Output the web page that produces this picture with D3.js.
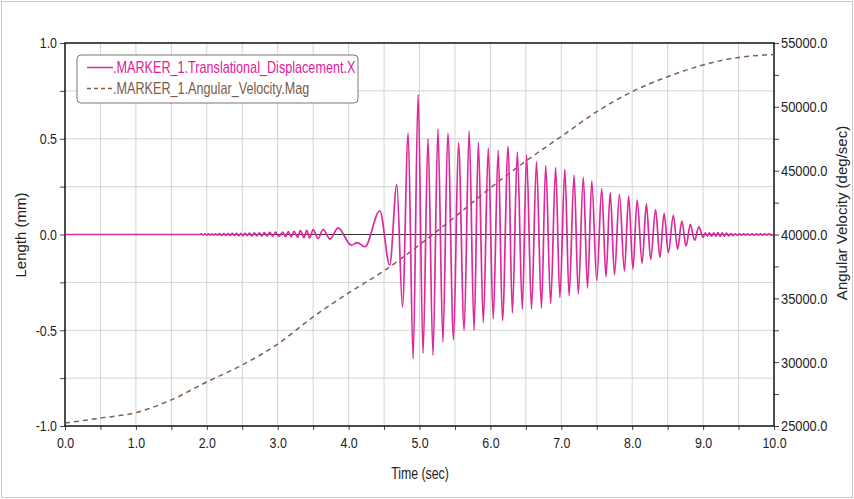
<!DOCTYPE html>
<html>
<head>
<meta charset="utf-8">
<script src="https://cdn.jsdelivr.net/npm/d3@7"></script>
<style>
  body { margin: 0; background: #fff; }
  text { font-family: "Liberation Sans", Arial, sans-serif; }
</style>
</head>
<body>
<div id="chart"></div>
<script>
// time axis
var timeTicks = [0, 1, 2, 3, 4, 5, 6, 7, 8, 9, 10];
var lenTicks = [-1.0, -0.5, 0.0, 0.5, 1.0];
var angTicks = [25000, 30000, 35000, 40000, 45000, 50000, 55000];

// .MARKER_1.Angular_Velocity.Mag (deg/sec)
var angTime = [0, 0.5, 1, 1.5, 2, 2.5, 3, 3.5, 4, 4.5, 5, 5.5, 6, 6.5, 7, 7.5, 8, 8.5, 9, 9.5, 10];
var angValue = [25230, 25620, 26050, 27050, 28450, 29780, 31420, 33550, 35420, 37150, 39200, 41380,
    43650, 45750, 47680, 49620, 51190, 52360, 53280, 53870, 54100];

// .MARKER_1.Translational_Displacement.X (mm), peaks and troughs
var dispTime = [0, 0.5, 1.0, 1.5, 1.9,
    1.925, 1.95, 1.975, 2.0, 2.025, 2.05, 2.075, 2.1, 2.125, 2.15, 2.18, 2.21, 2.24, 2.27, 2.30, 2.33,
    2.36, 2.39, 2.42, 2.45, 2.48, 2.51, 2.54, 2.57, 2.60, 2.635, 2.67, 2.705, 2.74, 2.775, 2.81, 2.85,
    2.89, 2.93, 2.97, 3.02, 3.07, 3.11, 3.15, 3.19, 3.23, 3.28, 3.32, 3.37, 3.41, 3.45, 3.50, 3.57,
    3.64, 3.74, 3.85, 4.04, 4.12, 4.23, 4.44, 4.58,
    4.68, 4.76, 4.84, 4.91, 4.98, 5.05, 5.12, 5.19, 5.26, 5.33, 5.40, 5.48, 5.55, 5.63, 5.70, 5.77,
    5.83, 5.90, 5.97, 6.04, 6.11, 6.17, 6.25, 6.31, 6.38, 6.45, 6.51, 6.58, 6.65, 6.72, 6.78, 6.85,
    6.92, 6.98, 7.05, 7.11, 7.18, 7.24, 7.31, 7.37, 7.43, 7.50, 7.57, 7.63, 7.69, 7.75, 7.82, 7.89,
    7.95, 8.01, 8.07, 8.14, 8.20, 8.26, 8.33, 8.39, 8.45, 8.51, 8.58, 8.64, 8.70, 8.76, 8.82, 8.88,
    8.94, 9.00,
    9.03, 9.06, 9.09, 9.12, 9.15, 9.18, 9.21, 9.24, 9.27, 9.30, 9.33, 9.36, 9.39, 9.42, 9.45, 9.48,
    9.51, 9.54, 9.57, 9.60, 9.63, 9.66, 9.69, 9.72, 9.75, 9.78, 9.81, 9.84, 9.87, 9.90, 9.93, 9.96, 10.0];
var dispValue = [0, 0, 0, 0, 0,
    0.003, -0.003, 0.003, -0.003, 0.004, -0.004, 0.004, -0.004, 0.004, -0.004, 0.005, -0.005, 0.005, -0.005, 0.005, -0.005,
    0.006, -0.005, 0.006, -0.006, 0.006, -0.006, 0.007, -0.006, 0.007, -0.007, 0.008, -0.007, 0.009, -0.008, 0.010, -0.008,
    0.011, -0.009, 0.012, -0.010, 0.013, -0.011, 0.015, -0.012, 0.017, -0.014, 0.020, -0.016, 0.022, -0.018, 0.025, -0.021,
    0.026, -0.024, 0.035, -0.056, -0.042, -0.064, 0.124, -0.16,
    0.26, -0.38, 0.53, -0.65, 0.73, -0.62, 0.50, -0.63, 0.55, -0.56, 0.53, -0.55, 0.48, -0.50, 0.54, -0.50,
    0.48, -0.46, 0.45, -0.44, 0.44, -0.45, 0.46, -0.41, 0.43, -0.39, 0.415, -0.39, 0.38, -0.385, 0.36, -0.36,
    0.35, -0.33, 0.34, -0.32, 0.31, -0.31, 0.30, -0.28, 0.28, -0.24, 0.24, -0.22, 0.22, -0.21, 0.21, -0.19,
    0.20, -0.18, 0.18, -0.15, 0.16, -0.13, 0.13, -0.12, 0.11, -0.095, 0.10, -0.077, 0.07, -0.06, 0.053, -0.03,
    0.04, -0.015,
    0.008, -0.008, 0.008, -0.009, 0.009, -0.009, 0.010, -0.010, 0.009, -0.009, 0.007, -0.007, 0.005, -0.005, 0.004, -0.004,
    0.003, -0.003, 0.003, -0.003, 0.003, -0.003, 0.003, -0.003, 0.003, -0.003, 0.003, -0.003, 0.003, -0.003, 0.003, -0.003, 0];

var svgWidth = 854;
var svgHeight = 499;
var margin = { top: 43, right: 80, bottom: 73, left: 65 };
var chartWidth = svgWidth - margin.left - margin.right;
var chartHeight = svgHeight - margin.top - margin.bottom;

var pink = "#dc2a9b";
var brown = "#80604b";

// the picture is squeezed sideways, so flat text is narrower than usual
function squeeze(sel, k) {
    sel.each(function () {
        var t = d3.select(this);
        var x = +t.attr("x") || 0;
        t.attr("x", x / k).attr("transform", `scale(${k},1)`);
    });
}

var svg = d3.select("#chart")
    .append("svg")
    .attr("width", svgWidth)
    .attr("height", svgHeight);

// light frame round the whole picture
svg.append("rect")
    .attr("x", 1.5).attr("y", 1.5)
    .attr("width", svgWidth - 3).attr("height", svgHeight - 3)
    .attr("fill", "none")
    .attr("stroke", "#c8c8c8");

var chartGroup = svg.append("g")
    .attr("transform", `translate(${margin.left}, ${margin.top})`);

var xScale = d3.scaleLinear().domain([0, 10]).range([0, chartWidth]);
var yScale = d3.scaleLinear().domain([-1, 1]).range([chartHeight, 0]);
var yRight = d3.scaleLinear().domain([25000, 55000]).range([chartHeight, 0]);

// grid
chartGroup.append("g")
    .selectAll("line")
    .data(d3.range(0.5, 10, 0.5))
    .enter()
    .append("line")
    .attr("x1", d => xScale(d)).attr("x2", d => xScale(d))
    .attr("y1", 0).attr("y2", chartHeight)
    .attr("stroke", "#d4d4d4");

chartGroup.append("g")
    .selectAll("line")
    .data(d3.range(-0.75, 1, 0.25))
    .enter()
    .append("line")
    .attr("x1", 0).attr("x2", chartWidth)
    .attr("y1", d => yScale(d)).attr("y2", d => yScale(d))
    .attr("stroke", "#d4d4d4");

// zero line
chartGroup.append("line")
    .attr("x1", 0).attr("x2", chartWidth)
    .attr("y1", yScale(0)).attr("y2", yScale(0))
    .attr("stroke", "#333")
    .attr("stroke-width", 1.2);

// axes
var bottomAxis = d3.axisBottom(xScale)
    .tickValues(d3.range(0, 10.01, 0.5))
    .tickSize(4)
    .tickFormat(d => (timeTicks.indexOf(d) >= 0 ? d.toFixed(1) : ""));
var leftAxis = d3.axisLeft(yScale)
    .tickValues(d3.range(-1, 1.01, 0.25))
    .tickSize(5)
    .tickFormat(d => (lenTicks.some(v => Math.abs(v - d) < 1e-6) ? d.toFixed(1) : ""));
var rightAxis = d3.axisRight(yRight)
    .tickValues(d3.range(25000, 55001, 2500))
    .tickSize(5)
    .tickFormat(d => (angTicks.indexOf(d) >= 0 ? d.toFixed(1) : ""));

var xAxis = chartGroup.append("g")
    .attr("transform", `translate(0, ${chartHeight})`)
    .call(bottomAxis);
var yAxis = chartGroup.append("g")
    .call(leftAxis);
var yAxisR = chartGroup.append("g")
    .attr("transform", `translate(${chartWidth}, 0)`)
    .call(rightAxis);

[xAxis, yAxis, yAxisR].forEach(function (ax) {
    ax.attr("font-size", 15.5).attr("font-family", null);
    ax.selectAll("text").attr("fill", "#222");
    ax.selectAll(".tick line").attr("stroke", "#444");
    ax.select(".domain").remove();
});
xAxis.selectAll("text").attr("dy", "1.0em");
yAxis.selectAll("text").attr("x", -8);
yAxisR.selectAll("text").attr("x", 7);
squeeze(xAxis.selectAll("text"), 0.8);
squeeze(yAxis.selectAll("text"), 0.8);
squeeze(yAxisR.selectAll("text"), 0.83);

// plot frame
chartGroup.append("rect")
    .attr("width", chartWidth)
    .attr("height", chartHeight)
    .attr("fill", "none")
    .attr("stroke", "#111")
    .attr("stroke-width", 1.5);

// lines
var angData = angTime.map((t, i) => ({ t: t, v: angValue[i] }));
var dispData = dispTime.map((t, i) => ({ t: t, v: dispValue[i] }));

var angLine = d3.line()
    .x(d => xScale(d.t))
    .y(d => yRight(d.v))
    .curve(d3.curveMonotoneX);
var dispLine = d3.line()
    .x(d => xScale(d.t))
    .y(d => yScale(d.v))
    .curve(d3.curveMonotoneX);

chartGroup.append("path")
    .datum(angData)
    .attr("d", angLine)
    .attr("fill", "none")
    .attr("stroke", brown)
    .attr("stroke-width", 1.5)
    .attr("stroke-dasharray", "5,4");

chartGroup.append("path")
    .datum(dispData)
    .attr("d", dispLine)
    .attr("fill", "none")
    .attr("stroke", pink)
    .attr("stroke-width", 1.7)
    .attr("stroke-linejoin", "round");

// axis titles
var timeTitle = svg.append("text")
    .attr("x", 420).attr("y", 479)
    .attr("text-anchor", "middle")
    .attr("font-size", 16)
    .attr("fill", "#222")
    .text("Time (sec)");
squeeze(timeTitle, 0.77);

svg.append("text")
    .attr("transform", "translate(26, 235) rotate(-90)")
    .attr("text-anchor", "middle")
    .attr("font-size", 15)
    .attr("fill", "#222")
    .text("Length (mm)");

svg.append("text")
    .attr("transform", "translate(847, 213) rotate(-90)")
    .attr("text-anchor", "middle")
    .attr("font-size", 15)
    .attr("fill", "#222")
    .text("Angular Velocity (deg/sec)");

// legend
var legend = svg.append("g").attr("transform", "translate(77, 55)");
legend.append("rect")
    .attr("width", 281).attr("height", 48)
    .attr("rx", 4)
    .attr("fill", "#fff")
    .attr("stroke", "#777");
var legendItems = [
    { name: ".MARKER_1.Translational_Displacement.X", color: pink, dash: null, text: "#e0209a" },
    { name: ".MARKER_1.Angular_Velocity.Mag", color: brown, dash: "4,3", text: "#7d5a45" }
];
legendItems.forEach(function (d, i) {
    var y = 12.5 + i * 21;
    legend.append("line")
        .attr("x1", 10).attr("x2", 36)
        .attr("y1", y).attr("y2", y)
        .attr("stroke", d.color)
        .attr("stroke-width", 1.5)
        .attr("stroke-dasharray", d.dash);
    var label = legend.append("text")
        .attr("x", 36).attr("y", y + 5.5)
        .attr("font-size", 16)
        .attr("fill", d.text)
        .text(d.name);
    squeeze(label, 0.79);
});
</script>
</body>
</html>
